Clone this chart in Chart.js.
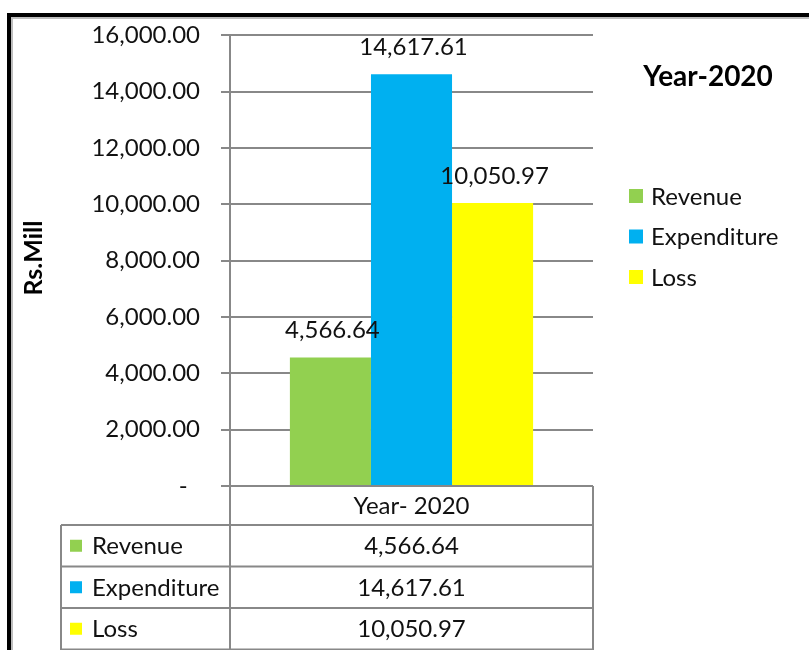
<!DOCTYPE html>
<html>
<head>
<meta charset="utf-8">
<script src="https://cdn.jsdelivr.net/npm/chart.js@4.4.0/dist/chart.umd.min.js"></script>
<style>
  html, body { margin: 0; padding: 0; background: #fff; }
  #wrap { width: 809px; height: 650px; position: relative; }
</style>
</head>
<body>
<div id="wrap"><canvas id="chart1" width="809" height="650"></canvas></div>
<script>
// data
const categories = ['Year- 2020'];
const seriesNames = ['Revenue', 'Expenditure', 'Loss'];
const revenue = [4566.64];
const expenditure = [14617.61];
const loss = [10050.97];
const seriesColors = ['#92D050', '#00B0F0', '#FFFF00'];
const yMin = 0, yMax = 16000, yStep = 2000;
const yTitle = 'Rs.Mill';
const legendTitle = 'Year-2020';

const FONT = 'Lato, "Open Sans", sans-serif';
const GRID = '#888888';

function fmt(v) {
  return v.toLocaleString('en-US', { minimumFractionDigits: 2, maximumFractionDigits: 2 });
}

// labels, legend, table and frame
const extras = {
  id: 'extras',
  afterDatasetsDraw(chart) {
    const ctx = chart.ctx;
    ctx.save();
    ctx.fillStyle = '#111';
    ctx.font = '24px ' + FONT;
    ctx.textAlign = 'center';
    ctx.textBaseline = 'middle';
    chart.data.datasets.forEach((ds, i) => {
      chart.getDatasetMeta(i).data.forEach((bar, j) => {
        ctx.fillText(fmt(ds.data[j]), bar.x + 2, bar.y - 27);
      });
    });
    ctx.restore();
  },
  afterDraw(chart) {
    const ctx = chart.ctx;
    const area = chart.chartArea;
    const xs = chart.scales.x;
    ctx.save();

    // outer frame (cut off at right / bottom)
    ctx.fillStyle = '#000';
    ctx.fillRect(7, 13, 809, 4);
    ctx.fillRect(7, 13, 4, 650);
    ctx.fillStyle = '#bdbdbd';
    ctx.fillRect(11, 17, 809, 2);
    ctx.fillRect(11, 17, 2, 650);

    // y title
    ctx.save();
    ctx.translate(34, 258);
    ctx.rotate(-Math.PI / 2);
    ctx.font = 'bold 25px ' + FONT;
    ctx.fillStyle = '#000';
    ctx.textAlign = 'center';
    ctx.textBaseline = 'middle';
    ctx.fillText(yTitle, 0, 0);
    ctx.restore();

    // legend
    ctx.font = 'bold 28px ' + FONT;
    ctx.fillStyle = '#000';
    ctx.textAlign = 'center';
    ctx.textBaseline = 'middle';
    ctx.fillText(legendTitle, 708, 77);
    ctx.font = '24px ' + FONT;
    ctx.textAlign = 'left';
    chart.data.datasets.forEach((ds, i) => {
      const y = 196 + i * 40.5;
      ctx.fillStyle = ds.backgroundColor;
      ctx.fillRect(629, y - 7, 14, 14);
      ctx.fillStyle = '#111';
      ctx.fillText(ds.label, 651, y + 1);
    });

    // data table
    const top = area.bottom;
    const headH = 39, rowH = 41.5, leftX = 61;
    ctx.strokeStyle = GRID;
    ctx.lineWidth = 2;
    ctx.beginPath();
    ctx.moveTo(xs.left, top); ctx.lineTo(xs.left, 650);
    ctx.moveTo(xs.right, top); ctx.lineTo(xs.right, 650);
    ctx.moveTo(leftX, top + headH); ctx.lineTo(leftX, 650);
    ctx.moveTo(leftX, top + headH); ctx.lineTo(xs.right, top + headH);
    for (let i = 1; i <= chart.data.datasets.length; i++) {
      const y = top + headH + rowH * i;
      ctx.moveTo(leftX, y); ctx.lineTo(xs.right, y);
    }
    ctx.stroke();

    ctx.fillStyle = '#111';
    ctx.font = '24px ' + FONT;
    ctx.textAlign = 'center';
    const cx = (xs.left + xs.right) / 2;
    ctx.fillText(chart.data.labels[0], cx, top + headH / 2 + 1);
    chart.data.datasets.forEach((ds, i) => {
      const y = top + headH + rowH * i + rowH / 2;
      ctx.fillStyle = ds.backgroundColor;
      ctx.fillRect(70, y - 6, 12, 12);
      ctx.fillStyle = '#111';
      ctx.textAlign = 'left';
      ctx.fillText(ds.label, 92, y + 1);
      ctx.textAlign = 'center';
      ctx.fillText(fmt(ds.data[0]), cx, y + 1);
    });
    ctx.restore();
  }
};

new Chart(document.getElementById('chart1'), {
  type: 'bar',
  data: {
    labels: categories,
    datasets: [
      { label: seriesNames[0], data: revenue, backgroundColor: seriesColors[0] },
      { label: seriesNames[1], data: expenditure, backgroundColor: seriesColors[1] },
      { label: seriesNames[2], data: loss, backgroundColor: seriesColors[2] }
    ]
  },
  options: {
    responsive: false,
    animation: false,
    layout: { padding: { top: 31, right: 216, bottom: 164, left: 0 } },
    datasets: { bar: { categoryPercentage: 0.67, barPercentage: 1 } },
    plugins: {
      legend: { display: false },
      tooltip: { enabled: false }
    },
    scales: {
      x: { display: false },
      y: {
        min: yMin,
        max: yMax,
        afterFit(scale) { scale.width = 230; },
        ticks: {
          stepSize: yStep,
          padding: 21,
          color: '#111',
          font: { family: FONT, size: 24 },
          callback: v => v === 0 ? '-  ' : fmt(v)
        },
        grid: { color: GRID, lineWidth: 2, tickLength: 9 },
        border: { color: GRID, width: 2 }
      }
    }
  },
  plugins: [extras]
});
</script>
</body>
</html>
